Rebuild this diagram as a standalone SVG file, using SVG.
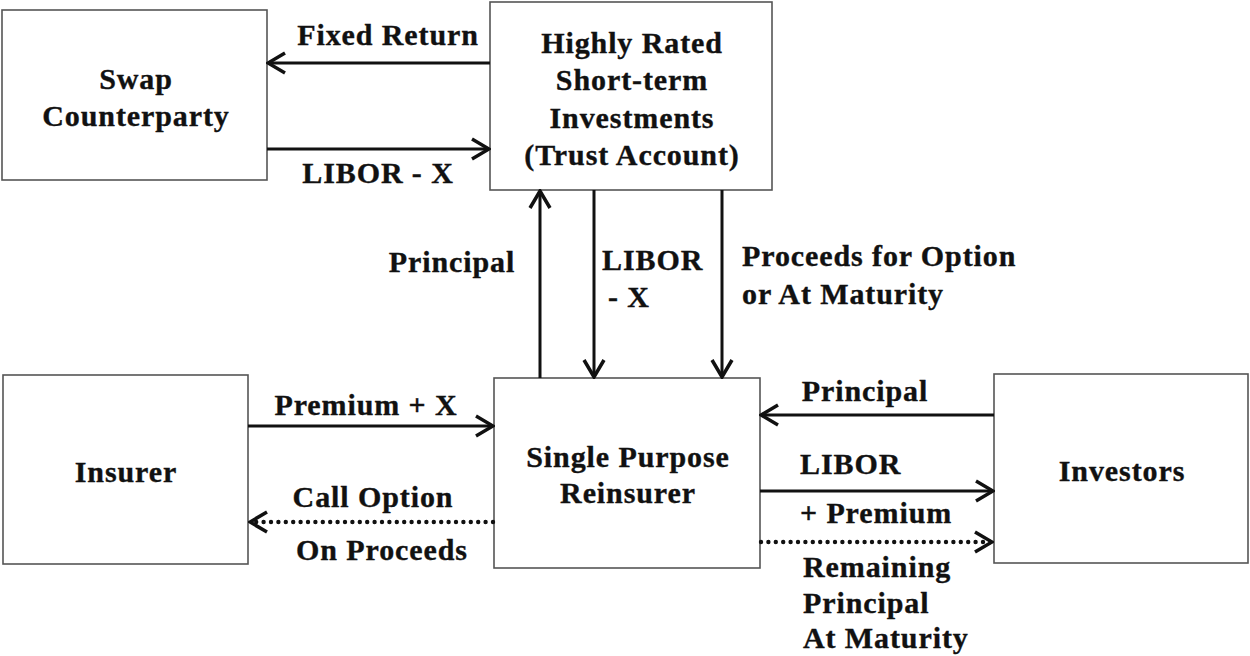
<svg xmlns="http://www.w3.org/2000/svg" width="1250" height="656" viewBox="0 0 1250 656">
  <style>
    .box { fill: #ffffff; stroke: #555555; stroke-width: 1.6; }
    text { font-family: "Liberation Serif", "Times New Roman", serif; font-weight: bold; font-size: 30px; letter-spacing: 0.9px; fill: #111111; stroke: #111111; stroke-width: 0.35; }
    .mid { text-anchor: middle; }
    .flow { stroke: #111111; stroke-width: 3; fill: none; }
    .dot { stroke: #111111; stroke-width: 4.4; fill: none; stroke-linecap: round; stroke-dasharray: 0 7.4; }
  </style>
  <defs>
    <marker id="head" viewBox="-22 -13 24 26" refX="0" refY="0" markerWidth="24" markerHeight="26" markerUnits="userSpaceOnUse" orient="auto">
      <path d="M-17,-10 L0,0 L-17,10" fill="none" stroke="#111111" stroke-width="3.5" stroke-linejoin="miter"/>
    </marker>
  </defs>
  <rect width="1250" height="656" fill="#ffffff"/>

  <g id="swap-counterparty">
    <rect class="box" x="2" y="10" width="265" height="170"/>
    <text class="mid" x="136" y="89">Swap</text>
    <text class="mid" x="136" y="126">Counterparty</text>
  </g>

  <g id="trust-account">
    <rect class="box" x="490" y="2" width="282" height="188"/>
    <text class="mid" x="632" y="53">Highly Rated</text>
    <text class="mid" x="632" y="90">Short-term</text>
    <text class="mid" x="632" y="128">Investments</text>
    <text class="mid" x="632" y="165">(Trust Account)</text>
  </g>

  <g id="insurer">
    <rect class="box" x="3" y="375" width="245" height="189"/>
    <text class="mid" x="126" y="482">Insurer</text>
  </g>

  <g id="single-purpose-reinsurer">
    <rect class="box" x="494" y="378" width="266" height="190"/>
    <text class="mid" x="628" y="467">Single Purpose</text>
    <text class="mid" x="628" y="503">Reinsurer</text>
  </g>

  <g id="investors">
    <rect class="box" x="994" y="374" width="254" height="189"/>
    <text class="mid" x="1122" y="481">Investors</text>
  </g>

  <g id="connectors">
    <line class="flow" x1="490" y1="63" x2="268" y2="63" marker-end="url(#head)"/>
    <line class="flow" x1="267" y1="149" x2="489" y2="149" marker-end="url(#head)"/>
    <line class="flow" x1="540" y1="378" x2="540" y2="191" marker-end="url(#head)"/>
    <line class="flow" x1="594" y1="190" x2="594" y2="377" marker-end="url(#head)"/>
    <line class="flow" x1="722" y1="190" x2="722" y2="377" marker-end="url(#head)"/>
    <line class="flow" x1="248" y1="426" x2="493" y2="426" marker-end="url(#head)"/>
    <line class="dot" x1="493" y1="522" x2="250" y2="522" marker-end="url(#head)"/>
    <line class="flow" x1="994" y1="415" x2="761" y2="415" marker-end="url(#head)"/>
    <line class="flow" x1="760" y1="491" x2="993" y2="491" marker-end="url(#head)"/>
    <line class="dot" x1="761" y1="542" x2="992" y2="542" marker-end="url(#head)"/>
  </g>

  <g id="labels">
    <text class="mid" x="388" y="45">Fixed Return</text>
    <text class="mid" x="378" y="183">LIBOR - X</text>
    <text class="mid" x="452" y="272">Principal</text>
    <text x="602" y="270">LIBOR</text>
    <text x="608" y="307">- X</text>
    <text x="742" y="266">Proceeds for Option</text>
    <text x="742" y="304">or At Maturity</text>
    <text class="mid" x="366" y="415">Premium + X</text>
    <text class="mid" x="373" y="507">Call Option</text>
    <text class="mid" x="382" y="560">On Proceeds</text>
    <text class="mid" x="865" y="401">Principal</text>
    <text x="800" y="474">LIBOR</text>
    <text x="800" y="523">+ Premium</text>
    <text x="803" y="577">Remaining</text>
    <text x="803" y="613">Principal</text>
    <text x="803" y="648">At Maturity</text>
  </g>
</svg>
